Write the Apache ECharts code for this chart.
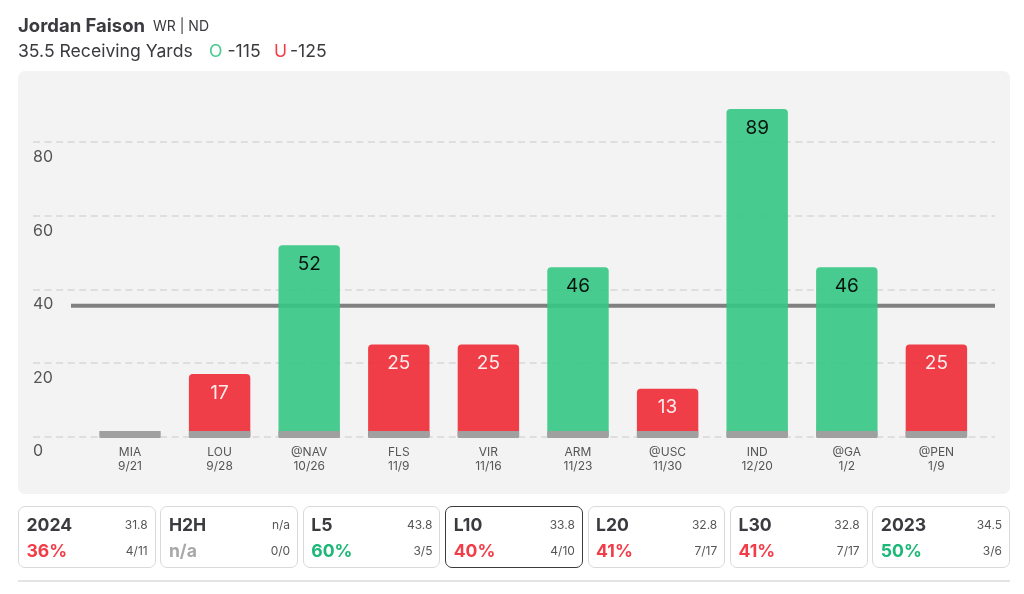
<!DOCTYPE html>
<html>
<head>
<meta charset="utf-8">
<script src="https://cdn.jsdelivr.net/npm/echarts@6/dist/echarts.min.js"></script>
<style>
  html, body { margin: 0; padding: 0; background: #fff; }
  body { width: 1024px; height: 594px; position: relative; overflow: hidden; font-family: Inter, sans-serif; color: #3a3a3f; }
  #chart { position: absolute; left: 0; top: 0; width: 1024px; height: 594px; }
  .head { position: absolute; white-space: nowrap; }
  #name { left: 18px; top: 14px; font-size: 18.5px; line-height: 22px; font-weight: 700; }
  #pos { left: 153px; top: 15px; font-size: 14px; line-height: 22px; }
  .odds { top: 40px; font-size: 17.6px; line-height: 22px; }
  .card-row { position: absolute; left: 18px; top: 506px; width: 992px; display: flex; gap: 4.7px; }
  .card { box-sizing: border-box; flex: 1; height: 62px; border: 1.5px solid #d9d9d9; border-radius: 7px; padding: 0 7px 0 7.5px; background: #fff; }
  .card.on { border-color: #3a3a3f; }
  .row { display: flex; justify-content: space-between; align-items: center; height: 26px; }
  .row:first-child { margin-top: 4px; }
  .big { font-size: 17.6px; font-weight: 700; }
  .small { font-size: 12px; color: #555; }
  #rule { position: absolute; left: 18px; top: 580px; width: 992px; height: 1.5px; background: #e4e4e4; }
</style>
</head>
<body>
<div id="chart"></div>
<div class="head" id="name">Jordan Faison</div>
<div class="head" id="pos">WR | ND</div>
<div class="head odds" style="left:18px">35.5 Receiving Yards</div>
<div class="head odds" style="left:209px;color:#46cb8e">O</div>
<div class="head odds" style="left:227.5px">-115</div>
<div class="head odds" style="left:274px;color:#f03c4a">U</div>
<div class="head odds" style="left:290px">-125</div>
<div class="card-row" id="cards"></div>
<div id="rule"></div>
<script>
const opponents = ["MIA", "LOU", "@NAV", "FLS", "VIR", "ARM", "@USC", "IND", "@GA", "@PEN"];
const dates = ["9/21", "9/28", "10/26", "11/9", "11/16", "11/23", "11/30", "12/20", "1/2", "1/9"];
const yards = [0, 17, 52, 25, 25, 46, 13, 89, 46, 25];
const propLine = 35.5;
// gray foot under every bar, runs a little below zero
const footLow = -0.4;
const footHigh = 1.5;

const cardNames = ["2024", "H2H", "L5", "L10", "L20", "L30", "2023"];
const cardAvg = ["31.8", "n/a", "43.8", "33.8", "32.8", "32.8", "34.5"];
const cardPct = ["36%", "n/a", "60%", "40%", "41%", "41%", "50%"];
const cardRecord = ["4/11", "0/0", "3/5", "4/10", "7/17", "7/17", "3/6"];

const GREEN = "#34c783";
const RED = "#ef2a35";
const FONT = "Inter";

document.getElementById("cards").innerHTML = cardNames
  .map(function (name, i) {
    var pctColor = cardPct[i] == "n/a" ? "#a8a8a8" : parseInt(cardPct[i]) >= 50 ? "#1cb877" : "#f23c48";
    return (
      '<div class="card' + (name == "L10" ? " on" : "") + '">' +
      '<div class="row"><span class="big">' + name + '</span><span class="small">' + cardAvg[i] + "</span></div>" +
      '<div class="row"><span class="big" style="color:' + pctColor + '">' + cardPct[i] + '</span><span class="small">' + cardRecord[i] + "</span></div>" +
      "</div>"
    );
  })
  .join("");

var chart = echarts.init(document.getElementById("chart"));

// all three grids share the same vertical scale, only the x extent differs
var gridTop = 68.5;
var gridHeight = 368;

function hiddenY(index) {
  return { type: "value", gridIndex: index, min: 0, max: 100, show: false };
}

chart.setOption({
  animation: false,
  graphic: [
    {
      type: "rect",
      z: -10,
      shape: { x: 18, y: 71, width: 992, height: 423, r: 7 },
      style: { fill: "#f3f3f3" },
    },
  ],
  grid: [
    { left: 33, width: 962, top: gridTop, height: gridHeight },
    { left: 85.2, width: 896, top: gridTop, height: gridHeight },
    { left: 71, width: 924, top: gridTop, height: gridHeight },
  ],
  xAxis: [
    { type: "value", gridIndex: 0, min: 0, max: 1, show: false },
    {
      type: "category",
      gridIndex: 1,
      data: opponents,
      axisLine: { show: false },
      axisTick: { show: false },
      axisLabel: {
        interval: 0,
        margin: 9,
        fontFamily: FONT,
        fontSize: 12,
        lineHeight: 14,
        color: "#555",
        formatter: function (value, index) {
          return value + "\n" + dates[index];
        },
      },
    },
    { type: "value", gridIndex: 2, min: 0, max: 1, show: false },
  ],
  yAxis: [
    {
      type: "value",
      gridIndex: 0,
      min: 0,
      max: 100,
      interval: 20,
      axisLine: { show: false },
      axisTick: { show: false },
      axisLabel: {
        inside: true,
        margin: 0,
        showMaxLabel: false,
        fontFamily: FONT,
        fontSize: 16,
        color: "#555",
        verticalAlign: "top",
        padding: [7, 0, 0, 0],
      },
      splitLine: {
        show: true,
        showMinLine: true,
        showMaxLine: false,
        lineStyle: { color: "#dedede", width: 2, type: [7, 4.55] },
      },
    },
    hiddenY(1),
    hiddenY(2),
  ],
  series: [
    {
      type: "line",
      xAxisIndex: 2,
      yAxisIndex: 2,
      z: 1,
      symbol: "none",
      data: [
        [0, propLine],
        [1, propLine],
      ],
      lineStyle: { color: "#808080", width: 4 },
    },
    {
      type: "bar",
      xAxisIndex: 1,
      yAxisIndex: 1,
      z: 2,
      barWidth: 61.4,
      data: yards.map(function (v) {
        var over = v > propLine;
        return {
          value: v,
          itemStyle: { color: over ? GREEN : RED, opacity: 0.9, borderRadius: [4, 4, 0, 0] },
          label: { show: v > 0, color: over ? "#000" : "#fff" },
        };
      }),
      label: {
        position: "insideTop",
        distance: 9.5,
        fontFamily: FONT,
        fontSize: 19,
      },
    },
    {
      type: "custom",
      xAxisIndex: 1,
      yAxisIndex: 1,
      z: 3,
      clip: false,
      data: opponents.map(function (name) {
        return [name, footLow, footHigh];
      }),
      encode: { x: 0, y: [1, 2] },
      renderItem: function (params, api) {
        var low = api.coord([api.value(0), api.value(1)]);
        var high = api.coord([api.value(0), api.value(2)]);
        var width = api.size([1, 0])[0] * 0.685;
        return {
          type: "rect",
          shape: { x: low[0] - width / 2, y: high[1], width: width, height: low[1] - high[1], r: [0, 0, 1, 1] },
          style: { fill: "#a0a0a0" },
        };
      },
    },
  ],
});
</script>
</body>
</html>
